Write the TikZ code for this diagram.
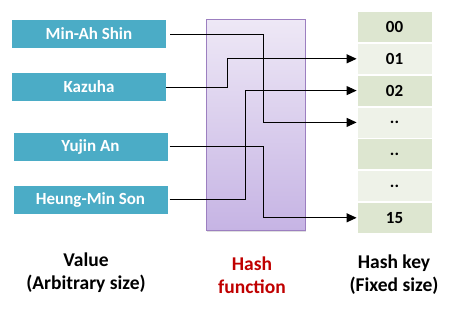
\documentclass[tikz,border=0pt]{standalone}
\usepackage{fontspec}
\setmainfont{Carlito}
\usetikzlibrary{arrows.meta, positioning, shadows}

\definecolor{valteal}{HTML}{4BACC6}
\definecolor{keydark}{HTML}{DDE6D0}
\definecolor{keylight}{HTML}{EEF2E8}
\definecolor{hashred}{HTML}{C00000}

\begin{document}
\begin{tikzpicture}[x=1pt, y=-1pt,
                valbox/.style={fill=valteal, text=white, font=\fontsize{17}{20}\selectfont\bfseries,
                    minimum width=154pt, minimum height=28pt, inner sep=0pt},
                keybox/.style={draw=white, line width=0.8pt, font=\fontsize{17}{20}\selectfont\bfseries,
                    minimum width=75pt, minimum height=31pt, inner sep=0pt},
                caption/.style={align=center, font=\fontsize{19.5}{23}\selectfont\bfseries},
                arr/.style={-{Triangle[length=10pt, width=9pt]}, line width=1pt}]
                \useasboundingbox (0,0) rectangle (452,309);
                % hash function block
                \node[draw={rgb,255:red,156;green,127;blue,192}, thick, top color={rgb,255:red,238;green,232;blue,246},
                    bottom color={rgb,255:red,198;green,180;blue,228}, drop shadow={opacity=0.25, shadow xshift=0.5pt, shadow yshift=-1.5pt},
                    minimum width=99pt, minimum height=211pt, inner sep=0pt] (hash) at (255.5,124.5) {};
                % values
                \node[valbox] (v1) at (89,34) {Min-Ah Shin};
                \node[valbox] (v2) at (89,87) {Kazuha};
                \node[valbox] (v3) at (90.5,146.5) {Yujin An};
                \node[valbox] (v4) at (90.5,199.5) {Heung-Min Son};
                % hash keys
                \node[keybox, fill=keydark] (k0) at (394.5,27) {00};
                \node[keybox, fill=keylight, below=0pt of k0] (k1) {01};
                \node[keybox, fill=keydark, below=0pt of k1] (k2) {02};
                \node[keybox, fill=keylight, below=0pt of k2] (k3) {..};
                \node[keybox, fill=keydark, below=0pt of k3] (k4) {..};
                \node[keybox, fill=keylight, below=0pt of k4] (k5) {..};
                \node[keybox, fill=keydark, below=0pt of k5] (k6) {15};
                % captions
                \node[caption] (valcap) at (86,273) {Value\\(Arbitrary size)};
                \node[caption, text=hashred] (hashcap) at (252,275) {Hash\\function};
                \node[caption] (keycap) at (394,275) {Hash key\\(Fixed size)};
                % mappings
                \draw[arr] ([xshift=4pt]v1.east) -- ++(93,0) |- (k3.west);
                \draw[arr] (v2.east) -- ++(61,0) |- (k1.west);
                \draw[arr] ([xshift=2pt]v3.east) -- ++(94,0) |- (k6.west);
                \draw[arr] ([xshift=2pt]v4.east) -- ++(76,0) |- (k2.west);
            \end{tikzpicture}
\end{document}
